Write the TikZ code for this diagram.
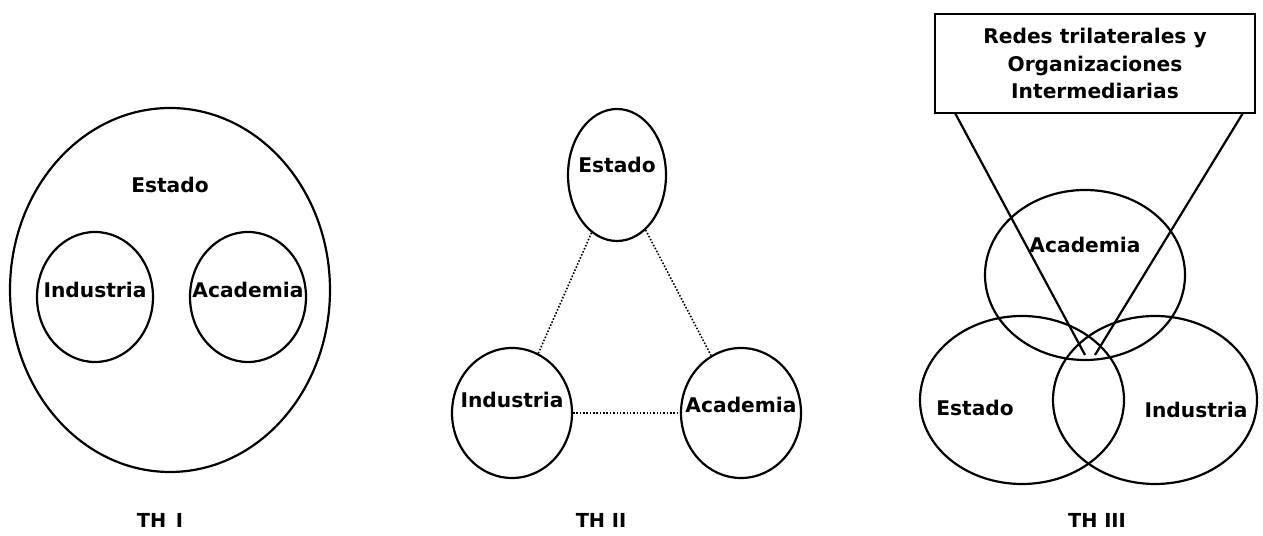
\documentclass[tikz,border=0pt]{standalone}
\usepackage{fontspec}
\setmainfont{DejaVu Sans}
\usetikzlibrary{shapes.geometric, positioning}
\definecolor{c1}{HTML}{000000}

\begin{document}
\begin{tikzpicture}[
    every node/.style={font=\bfseries\fontsize{11.5}{14}\selectfont, text=c1},
    orb/.style={draw=c1, line width=1.25pt, ellipse, inner sep=0pt},
    link/.style={draw=c1, line width=0.9pt, densely dotted},
    ray/.style={draw=c1, line width=1.25pt},
    thlab/.style={font=\bfseries\fontsize{11}{13}\selectfont},
]
\useasboundingbox (0,0) rectangle (25.26,10.72);

% TH I: the state contains the other two
\node[orb, minimum width=6.4cm, minimum height=7.28cm] (est1) at (3.4, 4.92) {};
\node (est1t) at (3.4, 7.02) {Estado};
\node[orb, minimum width=2.32cm, minimum height=2.6cm] (ind1) at (1.9, 4.78) {};
\node (ind1t) at (1.9, 4.92) {Industria};
\node[orb, minimum width=2.32cm, minimum height=2.6cm] (aca1) at (4.96, 4.78) {};
\node (aca1t) at (4.96, 4.92) {Academia};
\node[thlab] (th1) at (3.2, 0.32) {TH\enspace I};

% TH II: three separate spheres
\node[orb, minimum width=1.96cm, minimum height=2.64cm] (est2) at (12.34, 7.22) {};
\node (est2t) at (12.34, 7.42) {Estado};
\node[orb, minimum width=2.4cm, minimum height=2.6cm] (ind2) at (10.24, 2.46) {};
\node (ind2t) at (10.24, 2.72) {Industria};
\node[orb, minimum width=2.4cm, minimum height=2.6cm] (aca2) at (14.82, 2.46) {};
\node (aca2t) at (14.82, 2.62) {Academia};
\draw[link] (est2) -- (ind2);
\draw[link] (est2) -- (aca2);
\draw[link] (ind2) -- (aca2);
\node[thlab] (th2) at (12.02, 0.32) {TH II};

% TH III: overlapping spheres
\node[orb, minimum width=4.0cm, minimum height=3.4cm] (aca3) at (21.7, 5.22) {};
\node[orb, minimum width=4.08cm, minimum height=3.36cm] (est3) at (20.44, 2.72) {};
\node[orb, minimum width=4.08cm, minimum height=3.36cm] (ind3) at (23.1, 2.72) {};
\node (aca3t) at (21.7, 5.82) {Academia};
\node (est3t) at (19.5, 2.56) {Estado};
\node (ind3t) at (23.92, 2.52) {Industria};
\node[draw=c1, line width=1.25pt, minimum width=6.4cm, minimum height=1.98cm,
      align=center, inner sep=2pt, font=\bfseries\fontsize{11.5}{15.4}\selectfont] (redes)
    at (21.9, 9.45) {Redes trilaterales y\\Organizaciones\\Intermediarias};
\coordinate (redesL) at (19.1, 8.46);
\coordinate (redesR) at (24.86, 8.46);
\coordinate (hubL) at (21.7, 3.62);
\coordinate (hubR) at (21.9, 3.62);
\draw[ray] (redesL) -- (hubL);
\draw[ray] (redesR) -- (hubR);
\node[thlab] (th3) at (21.94, 0.32) {TH III};
\end{tikzpicture}
\end{document}
